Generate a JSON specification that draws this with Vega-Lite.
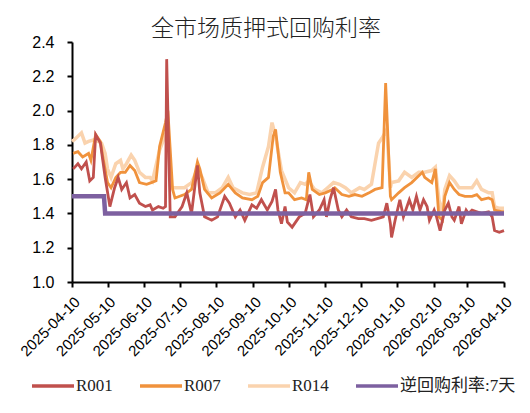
{
 "$schema": "https://vega.github.io/schema/vega-lite/v6.json",
 "width": 432, "height": 240,
 "autosize": {"type": "none"},
 "padding": {"left": 72, "top": 42, "right": 26, "bottom": 131},
 "background": "white",
 "title": {"text": "全市场质押式回购利率", "font": "Noto Sans CJK SC", "fontSize": 23, "fontWeight": 300, "color": "#222222", "anchor": "middle", "dx": -22, "offset": -7},
 "config": {
  "view": {"stroke": null},
  "axis": {"grid": false, "title": null, "domainColor": "black", "domainWidth": 2, "tickColor": "black", "tickWidth": 2, "tickSize": 5, "labelColor": "black", "labelFont": "Liberation Sans", "labelFontSize": 15},
  "legend": {"orient": "none", "legendX": -42, "legendY": 321, "direction": "horizontal", "symbolType": "stroke", "symbolSize": 1764, "symbolStrokeWidth": 3.5, "labelFont": "Liberation Serif, Noto Sans CJK SC", "labelFontSize": 17, "labelColor": "#222222", "columnPadding": 20, "labelOffset": 0, "title": null}
 },
 "datasets": {
  "rates": [
   {"d":"2025-04-10","s":"R014","v":1.82},{"d":"2025-04-12","s":"R014","v":1.83},{"d":"2025-04-18","s":"R014","v":1.87},{"d":"2025-04-21","s":"R014","v":1.81},{"d":"2025-04-24","s":"R014","v":1.82},{"d":"2025-04-29","s":"R014","v":1.83},{"d":"2025-05-05","s":"R014","v":1.81},{"d":"2025-05-08","s":"R014","v":1.75},{"d":"2025-05-10","s":"R014","v":1.66},{"d":"2025-05-13","s":"R014","v":1.61},{"d":"2025-05-17","s":"R014","v":1.69},{"d":"2025-05-21","s":"R014","v":1.71},{"d":"2025-05-23","s":"R014","v":1.66},{"d":"2025-05-26","s":"R014","v":1.69},{"d":"2025-05-30","s":"R014","v":1.74},{"d":"2025-06-02","s":"R014","v":1.71},{"d":"2025-06-06","s":"R014","v":1.64},{"d":"2025-06-11","s":"R014","v":1.61},{"d":"2025-06-15","s":"R014","v":1.61},{"d":"2025-06-17","s":"R014","v":1.59},{"d":"2025-06-20","s":"R014","v":1.68},{"d":"2025-06-23","s":"R014","v":1.77},{"d":"2025-06-28","s":"R014","v":1.86},{"d":"2025-06-30","s":"R014","v":1.85},{"d":"2025-07-03","s":"R014","v":1.55},{"d":"2025-07-09","s":"R014","v":1.55},{"d":"2025-07-14","s":"R014","v":1.55},{"d":"2025-07-20","s":"R014","v":1.58},{"d":"2025-07-25","s":"R014","v":1.66},{"d":"2025-07-29","s":"R014","v":1.61},{"d":"2025-08-03","s":"R014","v":1.52},{"d":"2025-08-09","s":"R014","v":1.52},{"d":"2025-08-15","s":"R014","v":1.55},{"d":"2025-08-20","s":"R014","v":1.61},{"d":"2025-08-24","s":"R014","v":1.55},{"d":"2025-09-01","s":"R014","v":1.52},{"d":"2025-09-07","s":"R014","v":1.51},{"d":"2025-09-13","s":"R014","v":1.52},{"d":"2025-09-18","s":"R014","v":1.67},{"d":"2025-09-23","s":"R014","v":1.79},{"d":"2025-09-26","s":"R014","v":1.93},{"d":"2025-09-29","s":"R014","v":1.85},{"d":"2025-10-03","s":"R014","v":1.69},{"d":"2025-10-04","s":"R014","v":1.65},{"d":"2025-10-10","s":"R014","v":1.55},{"d":"2025-10-15","s":"R014","v":1.52},{"d":"2025-10-20","s":"R014","v":1.58},{"d":"2025-10-24","s":"R014","v":1.57},{"d":"2025-10-27","s":"R014","v":1.59},{"d":"2025-11-01","s":"R014","v":1.54},{"d":"2025-11-07","s":"R014","v":1.52},{"d":"2025-11-12","s":"R014","v":1.55},{"d":"2025-11-17","s":"R014","v":1.58},{"d":"2025-11-22","s":"R014","v":1.57},{"d":"2025-11-27","s":"R014","v":1.55},{"d":"2025-12-02","s":"R014","v":1.52},{"d":"2025-12-09","s":"R014","v":1.55},{"d":"2025-12-13","s":"R014","v":1.54},{"d":"2025-12-19","s":"R014","v":1.57},{"d":"2025-12-22","s":"R014","v":1.69},{"d":"2025-12-25","s":"R014","v":1.81},{"d":"2025-12-28","s":"R014","v":1.84},{"d":"2026-01-01","s":"R014","v":1.89},{"d":"2026-01-04","s":"R014","v":1.55},{"d":"2026-01-05","s":"R014","v":1.58},{"d":"2026-01-11","s":"R014","v":1.59},{"d":"2026-01-16","s":"R014","v":1.64},{"d":"2026-01-22","s":"R014","v":1.61},{"d":"2026-01-28","s":"R014","v":1.64},{"d":"2026-02-02","s":"R014","v":1.64},{"d":"2026-02-08","s":"R014","v":1.65},{"d":"2026-02-11","s":"R014","v":1.67},{"d":"2026-02-14","s":"R014","v":1.48},{"d":"2026-02-17","s":"R014","v":1.40},{"d":"2026-02-19","s":"R014","v":1.54},{"d":"2026-02-23","s":"R014","v":1.62},{"d":"2026-02-27","s":"R014","v":1.59},{"d":"2026-03-03","s":"R014","v":1.55},{"d":"2026-03-08","s":"R014","v":1.55},{"d":"2026-03-14","s":"R014","v":1.55},{"d":"2026-03-18","s":"R014","v":1.59},{"d":"2026-03-22","s":"R014","v":1.54},{"d":"2026-03-28","s":"R014","v":1.52},{"d":"2026-03-31","s":"R014","v":1.52},{"d":"2026-04-02","s":"R014","v":1.44},{"d":"2026-04-06","s":"R014","v":1.43},{"d":"2026-04-10","s":"R014","v":1.43},
   {"d":"2025-04-11","s":"R007","v":1.75},{"d":"2025-04-15","s":"R007","v":1.76},{"d":"2025-04-19","s":"R007","v":1.73},{"d":"2025-04-24","s":"R007","v":1.75},{"d":"2025-04-26","s":"R007","v":1.71},{"d":"2025-04-30","s":"R007","v":1.86},{"d":"2025-05-04","s":"R007","v":1.82},{"d":"2025-05-06","s":"R007","v":1.73},{"d":"2025-05-10","s":"R007","v":1.58},{"d":"2025-05-13","s":"R007","v":1.55},{"d":"2025-05-17","s":"R007","v":1.61},{"d":"2025-05-21","s":"R007","v":1.64},{"d":"2025-05-25","s":"R007","v":1.64},{"d":"2025-05-29","s":"R007","v":1.68},{"d":"2025-06-02","s":"R007","v":1.65},{"d":"2025-06-06","s":"R007","v":1.58},{"d":"2025-06-12","s":"R007","v":1.57},{"d":"2025-06-16","s":"R007","v":1.58},{"d":"2025-06-20","s":"R007","v":1.59},{"d":"2025-06-23","s":"R007","v":1.79},{"d":"2025-06-28","s":"R007","v":1.93},{"d":"2025-06-30","s":"R007","v":2.00},{"d":"2025-07-04","s":"R007","v":1.54},{"d":"2025-07-06","s":"R007","v":1.49},{"d":"2025-07-14","s":"R007","v":1.51},{"d":"2025-07-20","s":"R007","v":1.54},{"d":"2025-07-25","s":"R007","v":1.70},{"d":"2025-07-27","s":"R007","v":1.66},{"d":"2025-07-31","s":"R007","v":1.54},{"d":"2025-08-06","s":"R007","v":1.49},{"d":"2025-08-13","s":"R007","v":1.52},{"d":"2025-08-20","s":"R007","v":1.57},{"d":"2025-08-26","s":"R007","v":1.52},{"d":"2025-09-01","s":"R007","v":1.49},{"d":"2025-09-09","s":"R007","v":1.48},{"d":"2025-09-14","s":"R007","v":1.50},{"d":"2025-09-18","s":"R007","v":1.58},{"d":"2025-09-23","s":"R007","v":1.61},{"d":"2025-09-27","s":"R007","v":1.85},{"d":"2025-09-29","s":"R007","v":1.89},{"d":"2025-10-03","s":"R007","v":1.64},{"d":"2025-10-07","s":"R007","v":1.52},{"d":"2025-10-10","s":"R007","v":1.52},{"d":"2025-10-15","s":"R007","v":1.48},{"d":"2025-10-21","s":"R007","v":1.49},{"d":"2025-10-25","s":"R007","v":1.48},{"d":"2025-10-27","s":"R007","v":1.64},{"d":"2025-10-30","s":"R007","v":1.54},{"d":"2025-11-05","s":"R007","v":1.51},{"d":"2025-11-10","s":"R007","v":1.52},{"d":"2025-11-16","s":"R007","v":1.54},{"d":"2025-11-18","s":"R007","v":1.55},{"d":"2025-11-24","s":"R007","v":1.51},{"d":"2025-11-30","s":"R007","v":1.50},{"d":"2025-12-05","s":"R007","v":1.51},{"d":"2025-12-11","s":"R007","v":1.50},{"d":"2025-12-17","s":"R007","v":1.52},{"d":"2025-12-22","s":"R007","v":1.54},{"d":"2025-12-28","s":"R007","v":1.55},{"d":"2025-12-31","s":"R007","v":2.16},{"d":"2026-01-04","s":"R007","v":1.50},{"d":"2026-01-05","s":"R007","v":1.48},{"d":"2026-01-11","s":"R007","v":1.52},{"d":"2026-01-16","s":"R007","v":1.55},{"d":"2026-01-22","s":"R007","v":1.58},{"d":"2026-01-28","s":"R007","v":1.62},{"d":"2026-01-31","s":"R007","v":1.64},{"d":"2026-02-02","s":"R007","v":1.61},{"d":"2026-02-08","s":"R007","v":1.58},{"d":"2026-02-11","s":"R007","v":1.66},{"d":"2026-02-14","s":"R007","v":1.38},{"d":"2026-02-17","s":"R007","v":1.36},{"d":"2026-02-19","s":"R007","v":1.50},{"d":"2026-02-23","s":"R007","v":1.58},{"d":"2026-02-27","s":"R007","v":1.54},{"d":"2026-03-03","s":"R007","v":1.51},{"d":"2026-03-08","s":"R007","v":1.50},{"d":"2026-03-14","s":"R007","v":1.50},{"d":"2026-03-18","s":"R007","v":1.51},{"d":"2026-03-22","s":"R007","v":1.48},{"d":"2026-03-28","s":"R007","v":1.49},{"d":"2026-03-31","s":"R007","v":1.48},{"d":"2026-04-02","s":"R007","v":1.42},{"d":"2026-04-08","s":"R007","v":1.41},{"d":"2026-04-10","s":"R007","v":1.41},
   {"d":"2025-04-11","s":"R001","v":1.66},{"d":"2025-04-15","s":"R001","v":1.69},{"d":"2025-04-18","s":"R001","v":1.66},{"d":"2025-04-22","s":"R001","v":1.70},{"d":"2025-04-25","s":"R001","v":1.59},{"d":"2025-04-28","s":"R001","v":1.61},{"d":"2025-04-30","s":"R001","v":1.86},{"d":"2025-05-04","s":"R001","v":1.81},{"d":"2025-05-08","s":"R001","v":1.61},{"d":"2025-05-12","s":"R001","v":1.44},{"d":"2025-05-16","s":"R001","v":1.55},{"d":"2025-05-19","s":"R001","v":1.61},{"d":"2025-05-22","s":"R001","v":1.54},{"d":"2025-05-26","s":"R001","v":1.58},{"d":"2025-05-29","s":"R001","v":1.49},{"d":"2025-06-02","s":"R001","v":1.51},{"d":"2025-06-06","s":"R001","v":1.46},{"d":"2025-06-11","s":"R001","v":1.44},{"d":"2025-06-15","s":"R001","v":1.45},{"d":"2025-06-17","s":"R001","v":1.42},{"d":"2025-06-22","s":"R001","v":1.44},{"d":"2025-06-26","s":"R001","v":1.43},{"d":"2025-06-28","s":"R001","v":1.44},{"d":"2025-06-29","s":"R001","v":2.30},{"d":"2025-07-02","s":"R001","v":1.38},{"d":"2025-07-06","s":"R001","v":1.38},{"d":"2025-07-12","s":"R001","v":1.44},{"d":"2025-07-16","s":"R001","v":1.52},{"d":"2025-07-20","s":"R001","v":1.40},{"d":"2025-07-25","s":"R001","v":1.68},{"d":"2025-07-27","s":"R001","v":1.52},{"d":"2025-07-31","s":"R001","v":1.38},{"d":"2025-08-06","s":"R001","v":1.36},{"d":"2025-08-11","s":"R001","v":1.38},{"d":"2025-08-17","s":"R001","v":1.50},{"d":"2025-08-21","s":"R001","v":1.46},{"d":"2025-08-26","s":"R001","v":1.38},{"d":"2025-08-30","s":"R001","v":1.42},{"d":"2025-09-03","s":"R001","v":1.36},{"d":"2025-09-09","s":"R001","v":1.45},{"d":"2025-09-13","s":"R001","v":1.43},{"d":"2025-09-17","s":"R001","v":1.48},{"d":"2025-09-22","s":"R001","v":1.42},{"d":"2025-09-26","s":"R001","v":1.47},{"d":"2025-09-29","s":"R001","v":1.54},{"d":"2025-10-01","s":"R001","v":1.42},{"d":"2025-10-04","s":"R001","v":1.34},{"d":"2025-10-07","s":"R001","v":1.44},{"d":"2025-10-09","s":"R001","v":1.35},{"d":"2025-10-13","s":"R001","v":1.32},{"d":"2025-10-19","s":"R001","v":1.38},{"d":"2025-10-24","s":"R001","v":1.40},{"d":"2025-10-28","s":"R001","v":1.51},{"d":"2025-10-31","s":"R001","v":1.38},{"d":"2025-11-05","s":"R001","v":1.42},{"d":"2025-11-09","s":"R001","v":1.48},{"d":"2025-11-11","s":"R001","v":1.38},{"d":"2025-11-14","s":"R001","v":1.48},{"d":"2025-11-17","s":"R001","v":1.55},{"d":"2025-11-21","s":"R001","v":1.42},{"d":"2025-11-24","s":"R001","v":1.38},{"d":"2025-11-28","s":"R001","v":1.42},{"d":"2025-12-02","s":"R001","v":1.38},{"d":"2025-12-08","s":"R001","v":1.37},{"d":"2025-12-13","s":"R001","v":1.37},{"d":"2025-12-19","s":"R001","v":1.36},{"d":"2025-12-24","s":"R001","v":1.37},{"d":"2025-12-29","s":"R001","v":1.38},{"d":"2026-01-01","s":"R001","v":1.46},{"d":"2026-01-04","s":"R001","v":1.34},{"d":"2026-01-05","s":"R001","v":1.26},{"d":"2026-01-08","s":"R001","v":1.36},{"d":"2026-01-12","s":"R001","v":1.48},{"d":"2026-01-15","s":"R001","v":1.38},{"d":"2026-01-20","s":"R001","v":1.48},{"d":"2026-01-23","s":"R001","v":1.42},{"d":"2026-01-26","s":"R001","v":1.50},{"d":"2026-01-29","s":"R001","v":1.42},{"d":"2026-02-01","s":"R001","v":1.48},{"d":"2026-02-04","s":"R001","v":1.44},{"d":"2026-02-06","s":"R001","v":1.36},{"d":"2026-02-10","s":"R001","v":1.42},{"d":"2026-02-12","s":"R001","v":1.38},{"d":"2026-02-15","s":"R001","v":1.30},{"d":"2026-02-19","s":"R001","v":1.42},{"d":"2026-02-22","s":"R001","v":1.46},{"d":"2026-02-25","s":"R001","v":1.38},{"d":"2026-02-27","s":"R001","v":1.36},{"d":"2026-03-03","s":"R001","v":1.44},{"d":"2026-03-05","s":"R001","v":1.34},{"d":"2026-03-09","s":"R001","v":1.42},{"d":"2026-03-11","s":"R001","v":1.40},{"d":"2026-03-14","s":"R001","v":1.42},{"d":"2026-03-18","s":"R001","v":1.41},{"d":"2026-03-22","s":"R001","v":1.40},{"d":"2026-03-28","s":"R001","v":1.41},{"d":"2026-03-31","s":"R001","v":1.38},{"d":"2026-04-02","s":"R001","v":1.30},{"d":"2026-04-06","s":"R001","v":1.29},{"d":"2026-04-10","s":"R001","v":1.30}
  ],
  "policy": [
   {"d":"2025-04-10","s":"逆回购利率:7天","v":1.5},{"d":"2025-05-07","s":"逆回购利率:7天","v":1.5},{"d":"2025-05-08","s":"逆回购利率:7天","v":1.4},{"d":"2026-04-10","s":"逆回购利率:7天","v":1.4}
  ]
 },
 "encoding": {
  "x": {"field": "d", "type": "temporal", "scale": {"type": "utc", "domain": [{"year": 2025, "month": 4, "date": 10, "utc": true}, {"year": 2026, "month": 4, "date": 10, "utc": true}]},
        "axis": {"format": "%Y-%m-%d", "labelAngle": -45, "labelOverlap": false, "labelPadding": 7, "values": [{"year":2025,"month":4,"date":10,"utc":true},{"year":2025,"month":5,"date":10,"utc":true},{"year":2025,"month":6,"date":10,"utc":true},{"year":2025,"month":7,"date":10,"utc":true},{"year":2025,"month":8,"date":10,"utc":true},{"year":2025,"month":9,"date":10,"utc":true},{"year":2025,"month":10,"date":10,"utc":true},{"year":2025,"month":11,"date":10,"utc":true},{"year":2025,"month":12,"date":10,"utc":true},{"year":2026,"month":1,"date":10,"utc":true},{"year":2026,"month":2,"date":10,"utc":true},{"year":2026,"month":3,"date":10,"utc":true},{"year":2026,"month":4,"date":10,"utc":true}]}},
  "y": {"field": "v", "type": "quantitative", "scale": {"domain": [1.0, 2.4], "nice": false, "zero": false},
        "axis": {"values": [1.0, 1.2, 1.4, 1.6, 1.8, 2.0, 2.2, 2.4], "format": ".1f", "labelPadding": 13, "labelFontSize": 16}},
  "color": {"field": "s", "type": "nominal", "scale": {"domain": ["R001", "R007", "R014", "逆回购利率:7天"], "range": ["#C0504D", "#F0923C", "#FAD3AE", "#7D60A0"]}}
 },
 "layer": [
  {"data": {"name": "rates"}, "transform": [{"filter": {"field": "s", "equal": "R014"}}], "mark": {"type": "line", "strokeWidth": 3.5}},
  {"data": {"name": "rates"}, "transform": [{"filter": {"field": "s", "equal": "R007"}}], "mark": {"type": "line", "strokeWidth": 2.8}},
  {"data": {"name": "rates"}, "transform": [{"filter": {"field": "s", "equal": "R001"}}], "mark": {"type": "line", "strokeWidth": 2.8}},
  {"data": {"name": "policy"}, "mark": {"type": "line", "strokeWidth": 4.5}}
 ]
}
